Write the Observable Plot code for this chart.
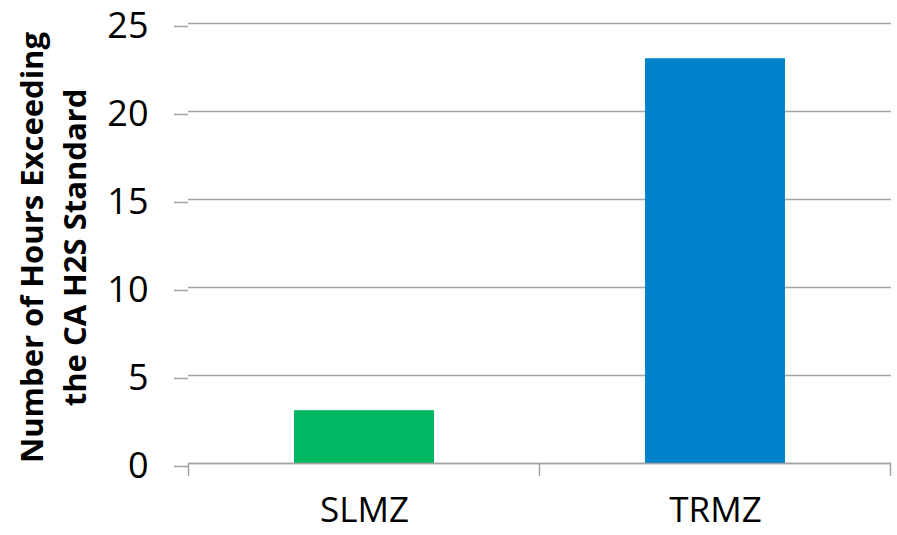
<!DOCTYPE html>
<html>
<head>
<meta charset="utf-8">
<script src="https://cdn.jsdelivr.net/npm/d3@7"></script>
<script src="https://cdn.jsdelivr.net/npm/@observablehq/plot@0.6"></script>
<style>
  html, body { margin: 0; padding: 0; background: #ffffff; }
  #chart svg { display: block; }
</style>
</head>
<body>
<div id="chart"></div>
<script>
const categories = ["SLMZ", "TRMZ"];
const values = [3, 23];
const barColors = ["#00B862", "#0082CA"];
const yTicks = [0, 5, 10, 15, 20, 25];
const yTitle = "Number of Hours Exceeding\nthe CA H2S Standard";

const data = categories.map((c, i) => ({category: c, value: values[i], color: barColors[i]}));
const gridColor = "#A3A3A3";

// tick marks at the band boundaries, computed from the x scale
function bandBoundaryTicks(len) {
  return (index, scales, values, dimensions) => {
    const x = scales.scales.x;
    const step = x.step, bw = x.bandwidth;
    const y0 = scales.y(0);
    const xs = categories.map(c => scales.x(c) - (step - bw) / 2);
    xs.push(scales.x(categories[categories.length - 1]) + bw + (step - bw) / 2);
    const g = d3.create("svg:g");
    g.selectAll("line").data(xs).join("line")
      .attr("x1", d => d).attr("x2", d => d)
      .attr("y1", y0).attr("y2", y0 + len)
      .attr("stroke", gridColor).attr("stroke-width", 1.5);
    return g.node();
  };
}

const chart = Plot.plot({
  width: 897,
  height: 535,
  marginLeft: 188,
  marginRight: 6,
  marginTop: 23,
  marginBottom: 72,
  style: {fontFamily: "'Open Sans', sans-serif", background: "transparent", color: "#000"},
  x: {domain: categories, paddingInner: 0.6, paddingOuter: 0.3},
  y: {domain: [0, 25]},
  marks: [
    Plot.gridY(yTicks, {stroke: gridColor, strokeOpacity: 1, strokeWidth: 1.5}),
    Plot.axisY(yTicks, {tickSize: 14, tickPadding: 26, stroke: gridColor, strokeWidth: 1.5, fontSize: 36, fill: "#000", dy: 3, label: null, tickFormat: d => String(d)}),
    Plot.barY(data, {x: "category", y: "value", fill: "color"}),
    Plot.ruleY([0], {stroke: gridColor, strokeWidth: 1.5}),
    Plot.axisX({tickSize: 0, tickPadding: 34, fontSize: 35, fill: "#000", label: null}),
    bandBoundaryTicks(13),
    Plot.text([yTitle], {frameAnchor: "left", rotate: -90, dx: -138, dy: 4, fontSize: 31, fontWeight: "bold", lineHeight: 1.38, lineAnchor: "middle", textAnchor: "middle", fill: "#000"})
  ]
});
document.getElementById("chart").appendChild(chart);
</script>
</body>
</html>
